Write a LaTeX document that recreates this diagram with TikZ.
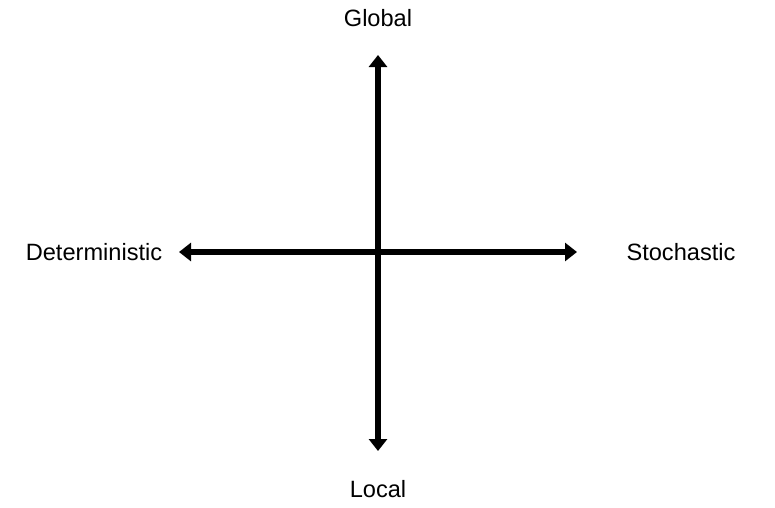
\documentclass[tikz,border=0pt]{standalone}
\usepackage{fontspec}
\setmainfont{Liberation Sans}
\usetikzlibrary{arrows.meta}

\begin{document}
\begin{tikzpicture}[x=1pt,y=-1pt,
  axis/.style={line width=6pt,{Triangle[width=18pt,length=12pt]}-{Triangle[width=18pt,length=12pt]}},
  lbl/.style={font=\fontsize{23.6}{28}\selectfont,inner sep=0pt}]
  % centre of the cross, px units
  \def\cx{378}\def\cy{252}
  \useasboundingbox (0,0) rectangle (775,507);
  % axis ends
  \coordinate (top) at (\cx,55);
  \coordinate (bot) at (\cx,451);
  \coordinate (lft) at (179,\cy);
  \coordinate (rgt) at (577,\cy);
  % arrows
  \draw[axis] (lft) -- (rgt);
  \draw[axis] (bot) -- (top);
  % labels
  \node[lbl] (glob) at (\cx,18){Global};
  \node[lbl] (loc) at (\cx,489){Local};
  \node[lbl] (det) at (94,\cy){Deterministic};
  \node[lbl] (sto) at (681,\cy){Stochastic};
\end{tikzpicture}
\end{document}
